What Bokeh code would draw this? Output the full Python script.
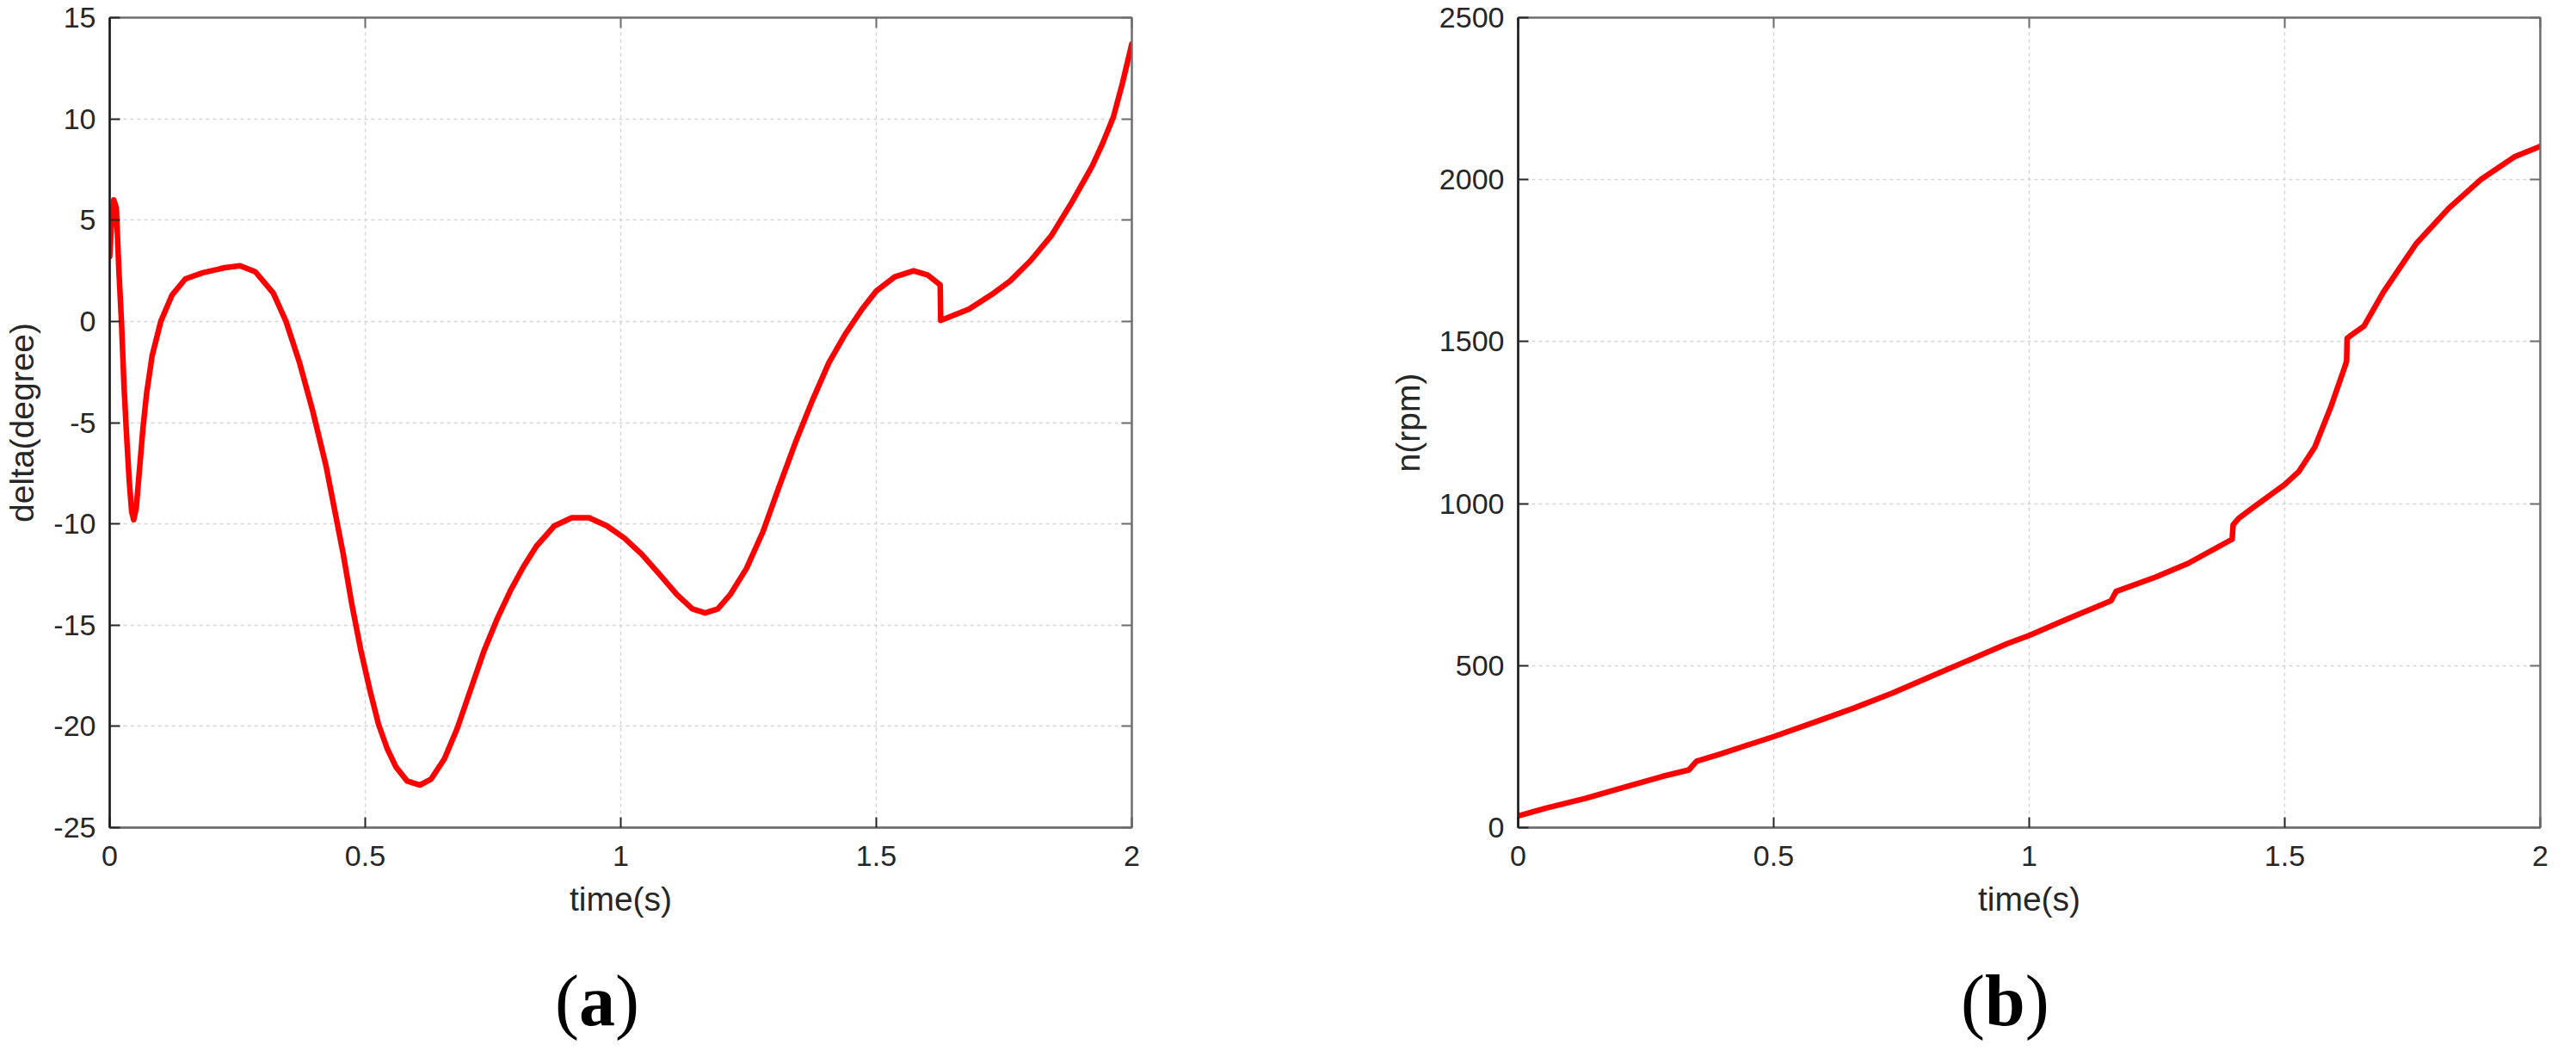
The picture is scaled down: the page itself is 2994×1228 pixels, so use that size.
from bokeh.plotting import figure
from bokeh.layouts import row, column
from bokeh.models import (LinearAxis, FixedTicker, Range1d, Div,
                          CustomJSTickFormatter, ColumnDataSource)
from bokeh.embed import file_html
from bokeh.resources import INLINE

# ---------------- data ----------------
time_a = [0.0, 0.004, 0.008, 0.013, 0.018, 0.023, 0.028, 0.033, 0.038, 0.043,
          0.047, 0.052, 0.058, 0.065, 0.072, 0.083, 0.100, 0.122, 0.148, 0.182,
          0.225, 0.255, 0.285, 0.320, 0.345, 0.371, 0.397, 0.423, 0.440, 0.457,
          0.474, 0.491, 0.509, 0.526, 0.543, 0.560, 0.582, 0.607, 0.629, 0.655,
          0.680, 0.706, 0.732, 0.758, 0.784, 0.810, 0.835, 0.870, 0.904, 0.938,
          0.973, 1.007, 1.041, 1.076, 1.110, 1.140, 1.165, 1.190, 1.214, 1.246,
          1.278, 1.310, 1.343, 1.375, 1.407, 1.440, 1.472, 1.500, 1.536, 1.573,
          1.600, 1.625, 1.626, 1.681, 1.730, 1.762, 1.802, 1.843, 1.883, 1.923,
          1.943, 1.964, 1.982, 2.000]
delta_a = [3.2, 5.0, 6.0, 5.6, 2.5, 0.0, -3.2, -5.6, -7.8, -9.4,
           -9.8, -9.2, -7.4, -5.3, -3.6, -1.7, 0.0, 1.3, 2.1, 2.4,
           2.65, 2.75, 2.45, 1.4, 0.0, -2.0, -4.4, -7.1, -9.3, -11.5,
           -14.0, -16.2, -18.2, -19.9, -21.1, -22.0, -22.7, -22.9, -22.6, -21.6,
           -20.1, -18.2, -16.3, -14.7, -13.3, -12.1, -11.1, -10.1, -9.7, -9.7,
           -10.1, -10.7, -11.5, -12.5, -13.5, -14.2, -14.4, -14.2, -13.5, -12.2,
           -10.4, -8.15, -5.9, -3.9, -2.05, -0.6, 0.6, 1.5, 2.2, 2.5,
           2.3, 1.8, 0.05, 0.6, 1.4, 2.0, 3.0, 4.25, 5.9, 7.7,
           8.8, 10.1, 11.8, 13.7]

time_b = [0.0, 0.056, 0.131, 0.206, 0.282, 0.334, 0.349, 0.395, 0.500, 0.583,
          0.657, 0.732, 0.807, 0.882, 0.957, 1.000, 1.070, 1.160, 1.170, 1.247,
          1.310, 1.397, 1.399, 1.410, 1.438, 1.500, 1.527, 1.559, 1.591, 1.617,
          1.621, 1.622, 1.630, 1.655, 1.693, 1.757, 1.821, 1.885, 1.949, 2.000]
speed_b = [36, 61, 90, 124, 158, 178, 205, 227, 281, 327,
           369, 415, 466, 517, 568, 593, 641, 700, 729, 773,
           815, 890, 935, 955, 988, 1059, 1098, 1175, 1302, 1420,
           1440, 1510, 1520, 1548, 1653, 1802, 1912, 2002, 2070, 2103]

x_ticks = [0, 0.5, 1, 1.5, 2]
x_tick_labels = ["0", "0.5", "1", "1.5", "2"]
delta_ticks = [-25, -20, -15, -10, -5, 0, 5, 10, 15]
delta_tick_labels = ["-25", "-20", "-15", "-10", "-5", "0", "5", "10", "15"]
speed_ticks = [0, 500, 1000, 1500, 2000, 2500]
speed_tick_labels = ["0", "500", "1000", "1500", "2000", "2500"]

x_title = "time(s)"
y_title_a = "delta(degree)"
y_title_b = "n(rpm)"
panel_tags = ["a", "b"]

# ---------------- style ----------------
FONT = "Liberation Sans"
TXT = "#262626"
DARK = "#262626"
GRAY = "#6e6e6e"
FRAME_W = 1188
FRAME_H = 941


def make_panel(xs, ys, yticks, ylabels, ylabel, border_left, border_right):
    p = figure(frame_width=FRAME_W, frame_height=FRAME_H,
               x_range=Range1d(x_ticks[0], x_ticks[-1]),
               y_range=Range1d(yticks[0], yticks[-1]),
               output_backend="svg", toolbar_location=None,
               min_border_left=border_left, min_border_right=border_right,
               min_border_top=20, min_border_bottom=139)
    p.background_fill_color = "white"
    p.border_fill_color = "white"
    p.outline_line_color = GRAY
    p.outline_line_width = 2

    src = ColumnDataSource(dict(x=xs, y=ys))
    p.line("x", "y", source=src, line_color="#ff0000", line_width=6.5,
           line_join="round", line_cap="round")

    xa = p.xaxis[0]
    xa.ticker = FixedTicker(ticks=x_ticks)
    xa.major_label_overrides = {float(t): s for t, s in zip(x_ticks, x_tick_labels)}
    xa.axis_label = x_title
    ya = p.yaxis[0]
    ya.ticker = FixedTicker(ticks=yticks)
    ya.major_label_overrides = {float(t): s for t, s in zip(yticks, ylabels)}
    ya.axis_label = ylabel

    for ax, line_col in ((xa, GRAY), (ya, "#1a1a1a")):
        ax.axis_line_color = line_col
        ax.axis_line_width = 2.5
        ax.major_tick_in = 12
        ax.major_tick_out = 0
        ax.minor_tick_in = 0
        ax.minor_tick_out = 0
        ax.major_tick_line_color = DARK
        ax.major_tick_line_width = 2
        ax.major_label_text_font = FONT
        ax.major_label_text_font_size = "34px"
        ax.major_label_text_color = TXT
        ax.axis_label_text_font = FONT
        ax.axis_label_text_font_size = "39px"
        ax.axis_label_text_font_style = "normal"
        ax.axis_label_text_color = TXT
    xa.major_label_standoff = 21
    xa.axis_label_standoff = 14
    ya.major_label_standoff = 16
    ya.axis_label_standoff = 12

    # MATLAB style box ticks on top and right (no labels)
    for side, ticks in (("above", x_ticks), ("right", yticks)):
        ax = LinearAxis(ticker=FixedTicker(ticks=ticks),
                        formatter=CustomJSTickFormatter(code="return ''"),
                        major_tick_in=12, major_tick_out=0,
                        minor_tick_in=0, minor_tick_out=0,
                        axis_line_color=GRAY, axis_line_width=2,
                        major_tick_line_color=GRAY, major_tick_line_width=2,
                        major_label_standoff=0)
        p.add_layout(ax, side)

    p.grid.grid_line_color = "#d4d4d4"
    p.grid.grid_line_dash = "4 4"
    p.grid.grid_line_width = 1.5
    return p


def tag_div(tag, width, left):
    html = ('<div style="position:relative;width:%dpx;height:104px;">'
            '<span style="position:absolute;left:%dpx;top:21px;'
            'font-family:\'Liberation Serif\';font-size:84px;line-height:84px;'
            'color:#000;white-space:nowrap;">(<b>%s</b>)</span></div>'
            % (width, left, tag))
    return Div(text=html, width=width, height=104, margin=(0, 0, 0, 0))


p1 = make_panel(time_a, delta_a, delta_ticks, delta_tick_labels, y_title_a, 127, 185)
p2 = make_panel(time_b, speed_b, speed_ticks, speed_tick_labels, y_title_b, 264, 26)

d1 = tag_div(panel_tags[0], 1500, 645)
d2 = tag_div(panel_tags[1], 1478, 779)

layout = column(row(p1, p2, spacing=0), row(d1, d2, spacing=0), spacing=0)

with open("out.html", "w") as f:
    f.write(file_html(layout, INLINE))
